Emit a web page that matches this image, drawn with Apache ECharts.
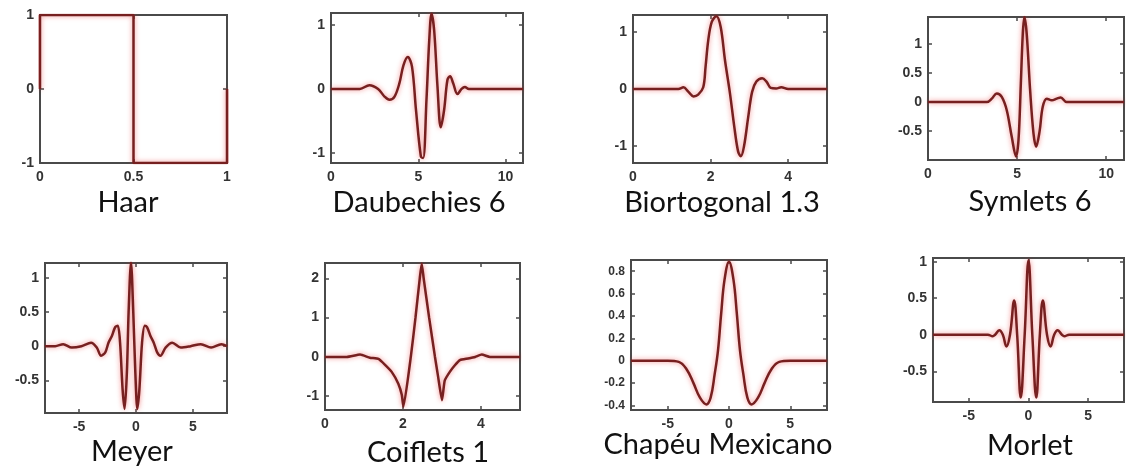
<!DOCTYPE html>
<html>
<head>
<meta charset="utf-8">
<script src="https://cdn.jsdelivr.net/npm/echarts@6/dist/echarts.min.js"></script>
<style>
  html, body { margin: 0; padding: 0; background: #ffffff; }
  #chart { width: 1126px; height: 468px; }
</style>
</head>
<body>
<div id="chart"></div>
<script>
// Wavelet shapes, sampled as [x, psi(x)] pairs
const haar = [[0, 0], [0, 1], [0.5, 1], [0.5, -1], [1, -1], [1, 0]];

const daubechies6 = [
  [0, 0], [1.65, 0], [2.2, 0.06], [2.7, 0], [3.07, -0.12], [3.35, -0.17], [3.64, -0.12],
  [3.92, 0.09], [4.15, 0.37], [4.4, 0.5], [4.64, 0.35], [4.87, -0.33], [5.15, -1.06],
  [5.28, -1.08], [5.47, -0.17], [5.63, 0.77], [5.76, 1.18], [5.91, 0.92], [6.1, 0.04],
  [6.29, -0.6], [6.48, -0.33], [6.67, 0.14], [6.82, 0.2], [7.0, 0.09], [7.24, -0.08],
  [7.48, 0], [7.67, 0.03], [7.9, 0], [11, 0]
];

const biortogonal13 = [
  [0, 0], [1.17, 0], [1.3, 0.03], [1.43, -0.05], [1.56, -0.13], [1.68, -0.1], [1.81, 0.03],
  [1.87, 0.39], [1.94, 0.86], [2.03, 1.18], [2.15, 1.28], [2.26, 1.09], [2.37, 0.51],
  [2.5, -0.08], [2.61, -0.66], [2.71, -1.1], [2.78, -1.18], [2.86, -1.01], [2.97, -0.49],
  [3.07, -0.05], [3.18, 0.13], [3.33, 0.19], [3.44, 0.13], [3.55, 0.02], [3.69, 0.01],
  [3.82, 0.03], [4.0, 0], [5, 0]
];

const symlets6 = [
  [0, 0], [3.3, 0], [3.58, 0.06], [3.86, 0.15], [4.14, 0.09], [4.42, -0.14], [4.7, -0.6],
  [4.94, -0.94], [5.08, -0.65], [5.21, 0.32], [5.32, 1.18], [5.41, 1.47], [5.54, 1.18],
  [5.73, 0.21], [5.92, -0.54], [6.07, -0.77], [6.26, -0.51], [6.44, -0.08], [6.67, 0.06],
  [6.95, 0.03], [7.23, 0.06], [7.45, 0.08], [7.79, 0], [11, 0]
];

const meyer = [
  [-8, 0], [-7.1, 0], [-6.4, 0.03], [-5.65, -0.02], [-4.8, 0], [-3.95, 0.05], [-3.45, -0.02],
  [-3.07, -0.14], [-2.7, -0.09], [-2.42, 0.05], [-2.12, 0.15], [-1.83, 0.28], [-1.6, 0.3],
  [-1.4, 0.05], [-1.18, -0.63], [-1.0, -0.92], [-0.8, -0.38], [-0.65, 0.5], [-0.44, 1.23],
  [-0.24, 0.5], [-0.06, -0.38], [0.12, -0.92], [0.3, -0.63], [0.53, 0.05], [0.77, 0.3],
  [0.97, 0.28], [1.27, 0.15], [1.56, 0.05], [1.86, -0.09], [2.15, -0.14], [2.6, -0.02],
  [3.19, 0.05], [3.93, -0.02], [4.8, 0], [5.7, 0.03], [6.6, -0.02], [7.5, 0.03], [8, 0]
];

const coiflets1 = [
  [0, 0], [0.56, 0], [0.9, 0.06], [1.15, -0.02], [1.37, -0.05], [1.54, -0.2], [1.71, -0.38],
  [1.88, -0.68], [1.97, -0.97], [2.01, -1.27], [2.2, 0], [2.32, 1.0], [2.43, 2.0],
  [2.48, 2.38], [2.53, 2.0], [2.67, 1.0], [2.82, 0], [2.9, -0.5], [3.0, -1.1], [3.07, -0.6],
  [3.2, -0.38], [3.33, -0.21], [3.46, -0.08], [3.67, -0.04], [3.85, 0], [4.02, 0.06],
  [4.23, 0], [5, 0]
];

const chapeuMexicano = [
  [-8, 0], [-5, 0], [-4.1, -0.01], [-3.44, -0.08], [-2.9, -0.2], [-2.37, -0.33], [-1.85, -0.39],
  [-1.5, -0.33], [-1.17, -0.12], [-0.9, 0.09], [-0.64, 0.42], [-0.37, 0.72], [0, 0.885],
  [0.37, 0.72], [0.64, 0.42], [0.9, 0.09], [1.17, -0.12], [1.5, -0.33], [1.85, -0.39],
  [2.37, -0.33], [2.9, -0.2], [3.44, -0.08], [4.1, -0.01], [5, 0], [8, 0]
];

const morlet = [
  [-8, 0], [-3.4, 0], [-3.0, -0.02], [-2.8, 0], [-2.45, 0.06], [-2.15, 0], [-1.85, -0.16],
  [-1.55, 0], [-1.2, 0.47], [-0.95, 0], [-0.65, -0.86], [-0.32, 0], [0, 1.02],
  [0.32, 0], [0.65, -0.86], [0.95, 0], [1.2, 0.47], [1.55, 0], [1.85, -0.16], [2.15, 0],
  [2.45, 0.06], [2.8, 0], [3.0, -0.02], [3.4, 0], [8, 0]
];

// Panel names and axis tick values
const names = ['Haar', 'Daubechies 6', 'Biortogonal 1.3', 'Symlets 6',
               'Meyer', 'Coiflets 1', 'Chapéu Mexicano', 'Morlet'];
const series = [haar, daubechies6, biortogonal13, symlets6, meyer, coiflets1, chapeuMexicano, morlet];
const xTicks = [[0, 0.5, 1], [0, 5, 10], [0, 2, 4], [0, 5, 10],
                [-5, 0, 5], [0, 2, 4], [-5, 0, 5], [-5, 0, 5]];
const yTicks = [[-1, 0, 1], [-1, 0, 1], [-1, 0, 1], [-0.5, 0, 0.5, 1],
                [-0.5, 0, 0.5, 1], [-1, 0, 1, 2], [-0.4, -0.2, 0, 0.2, 0.4, 0.6, 0.8], [-0.5, 0, 0.5, 1]];
const xRange = [[0, 1], [0, 11], [0, 5], [0, 11], [-8, 8], [0, 5], [-8, 8], [-8, 8]];
const yRange = [[-1, 1], [-1.16, 1.19], [-1.3, 1.3], [-1.0, 1.47],
                [-0.98, 1.22], [-1.35, 2.39], [-0.44, 0.9], [-0.92, 1.05]];

// Layout: plot boxes [left, top, width, height] and caption centres [x, y]
const boxes = [[40, 15, 187, 148], [331, 13, 192, 150], [633, 15, 194, 148], [928, 17, 196, 143],
               [45, 263, 182, 150], [325, 263, 195, 147], [631, 260, 196, 150], [933, 258, 191, 144]];
const captions = [[128, 203], [419, 203], [722, 203], [1030, 202],
                  [132, 452], [428, 453], [718, 445], [1030, 446]];
const smoothness = [false, 0.35, 0.35, 0.35, 0.3, 0.15, 0.4, 0.4];
const yLabelSize = [14, 14, 14, 14, 14, 14, 12, 14];

const chart = echarts.init(document.getElementById('chart'), null, { renderer: 'canvas' });

const grid = [], xAxis = [], yAxis = [], seriesOpts = [], graphic = [];
const tickLabel = { color: '#333333', fontSize: 14, fontWeight: 'bold', fontFamily: 'Liberation Sans' };
const fmt = v => String(v);
const hiddenLine = { show: false, onZero: false };
const tickStyle = { color: '#4a4a4a', width: 1.5 };

series.forEach((pts, i) => {
  const [l, t, w, h] = boxes[i];
  grid.push({ left: l, top: t, width: w, height: h, show: true,
              borderColor: '#4a4a4a', borderWidth: 2, backgroundColor: 'transparent' });
  // bottom / left axes with labels
  xAxis.push({ type: 'value', gridIndex: i, min: xRange[i][0], max: xRange[i][1], position: 'bottom',
    axisLine: hiddenLine, splitLine: { show: false },
    axisTick: { inside: true, length: 4, customValues: xTicks[i], lineStyle: tickStyle },
    axisLabel: Object.assign({ customValues: xTicks[i], margin: 7, formatter: fmt }, tickLabel) });
  yAxis.push({ type: 'value', gridIndex: i, min: yRange[i][0], max: yRange[i][1], position: 'left',
    axisLine: hiddenLine, splitLine: { show: false },
    axisTick: { inside: true, length: 4, customValues: yTicks[i], lineStyle: tickStyle },
    axisLabel: Object.assign({ customValues: yTicks[i], margin: 6, formatter: fmt }, tickLabel,
                             { fontSize: yLabelSize[i] }) });
});
series.forEach((pts, i) => {
  // top / right mirror axes carry only the inner tick marks
  xAxis.push({ type: 'value', gridIndex: i, min: xRange[i][0], max: xRange[i][1], position: 'top',
    axisLine: hiddenLine, splitLine: { show: false }, axisLabel: { show: false },
    axisTick: { inside: true, length: 4, customValues: xTicks[i], lineStyle: tickStyle } });
  yAxis.push({ type: 'value', gridIndex: i, min: yRange[i][0], max: yRange[i][1], position: 'right',
    axisLine: hiddenLine, splitLine: { show: false }, axisLabel: { show: false },
    axisTick: { inside: true, length: 4, customValues: yTicks[i], lineStyle: tickStyle } });
  seriesOpts.push({
    type: 'line', xAxisIndex: i, yAxisIndex: i, data: pts, showSymbol: false,
    smooth: smoothness[i], clip: true, silent: true, animation: false,
    lineStyle: { color: '#762020', width: 2.5, shadowColor: 'rgba(235,40,40,0.55)', shadowBlur: 5 }
  });
  graphic.push({
    type: 'text', x: captions[i][0], y: captions[i][1],
    style: { text: names[i], fill: '#111111', font: '29px Lato', align: 'center', verticalAlign: 'middle' }
  });
});

chart.setOption({
  animation: false,
  backgroundColor: '#ffffff',
  grid, xAxis, yAxis, series: seriesOpts, graphic
});
</script>
</body>
</html>
